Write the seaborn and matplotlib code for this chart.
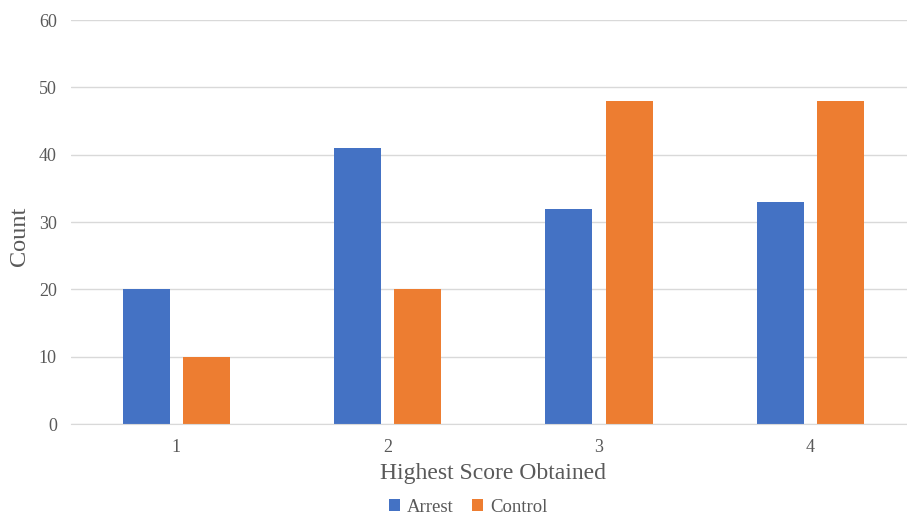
import matplotlib
matplotlib.use("Agg")
import matplotlib.pyplot as plt
import seaborn as sns
import pandas as pd

# chart data
scores = ["1", "2", "3", "4"]
arrest = [20, 41, 32, 33]
control = [10, 20, 48, 48]

df = pd.DataFrame({
    "Score": scores * 2,
    "Count": arrest + control,
    "Group": ["Arrest"] * len(scores) + ["Control"] * len(scores),
})

sns.set_style("white")
plt.rcParams['font.family'] = ['Liberation Serif', 'DejaVu Serif']
text_col = '#595959'

fig = plt.figure(figsize=(9.07, 5.16), dpi=100)
ax = fig.add_axes([0.078, 0.178, 0.932, 0.783])
sns.barplot(data=df, x="Score", y="Count", hue="Group", order=scores,
            palette={"Arrest": "#4472C4", "Control": "#ED7D31"},
            saturation=1, linewidth=0, width=0.57, gap=0.22, ax=ax, legend=True)

ax.set_ylim(0, 60)
ax.set_yticks(range(0, 61, 10))
ax.yaxis.grid(True, color='#d9d9d9', linewidth=1)
ax.set_axisbelow(True)
for s in ['top', 'right', 'left']:
    ax.spines[s].set_visible(False)
ax.spines['bottom'].set_color('#d9d9d9')
ax.tick_params(axis='y', length=0, labelsize=13, colors=text_col, pad=10)
ax.tick_params(axis='x', length=0, labelsize=13, colors=text_col, pad=11)
ax.set_xlabel("Highest Score Obtained", fontsize=17, color=text_col, labelpad=5)
ax.set_ylabel("Count", fontsize=17.5, color=text_col)
ax.yaxis.set_label_coords(-0.048, 0.465)

handles, labels = ax.get_legend_handles_labels()
ax.legend(handles, labels, loc='lower center', bbox_to_anchor=(0.47, -0.268),
          ncol=2, frameon=False, fontsize=13.5, handlelength=0.6, handleheight=0.6,
          handletextpad=0.35, columnspacing=1.0, labelcolor=text_col)

fig.savefig("out.png", dpi=100)
